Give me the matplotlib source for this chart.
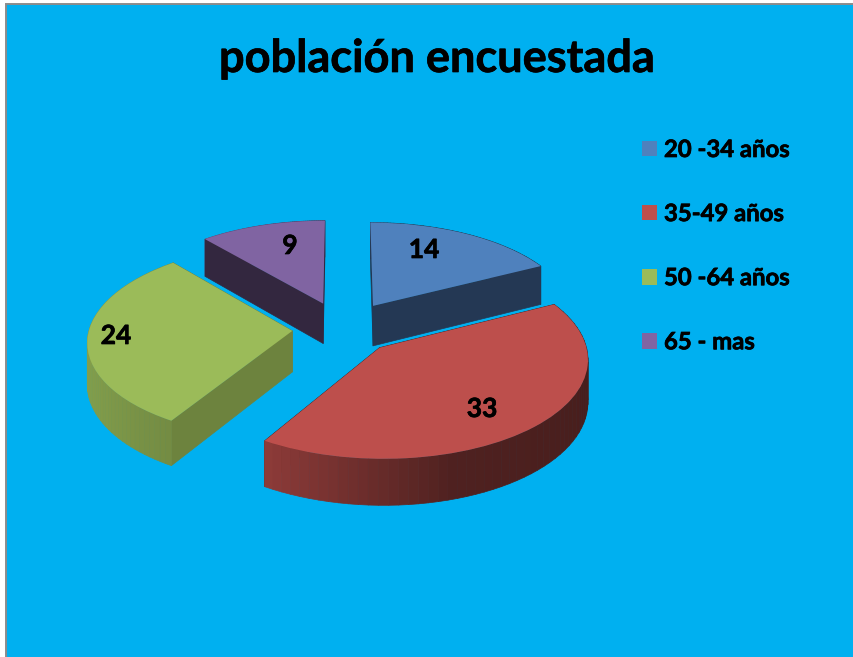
import numpy as np
import matplotlib
matplotlib.use("Agg")
from matplotlib import pyplot as plt
from matplotlib import patheffects
from matplotlib.collections import PolyCollection
from matplotlib.patches import Rectangle
from matplotlib.path import Path
from matplotlib.transforms import Transform

categories = ["20 -34 años", "35-49 años", "50 -64 años", "65 - mas"]
values = [14, 33, 24, 9]
title = "población encuestada"
colors = ["#4F81BD", "#BD4F4C", "#9BBB59", "#8064A2"]
cut_colors = ["#243854", "#4A1F1C", "#6D833E", "#33273F"]

# layout in reference pixels
CX, CY = 343, 329
RX, RY = 203, 96
K = 0.10
DEPTH = 41
EXPLODE = [0.29, 0.26, 0.25, 0.29]
label_pos = [(424, 250), (482, 409), (116, 336), (290, 246)]

plt.rcParams['font.family'] = ['Lato', 'DejaVu Sans']
plt.rcParams['font.weight'] = 'bold'


def project(x, y, z=0.0):
    s = 1.0 / (1.0 + K * np.asarray(y))
    return CX + RX * np.asarray(x) * s, CY - RY * np.asarray(y) * s + z * s


class Tilt(Transform):
    input_dims = 2
    output_dims = 2

    def transform_non_affine(self, values):
        px, py = project(values[:, 0], values[:, 1])
        return np.column_stack([px, py])

    def transform_path_non_affine(self, path):
        return Path(self.transform_non_affine(path.vertices), path.codes)


def wall_shade(x):
    return np.interp(x, [-1.0, -0.5, 0.3, 1.0], [0.85, 0.74, 0.42, 0.38])


def quad(x0, y0, x1, y1):
    a = project(x0, y0)
    b = project(x1, y1)
    c = project(x1, y1, DEPTH)
    d = project(x0, y0, DEPTH)
    return [a, b, c, d]


def draw_side(ax, wedge, base, cut, order):
    cx, cy = wedge.center
    t = np.radians(np.linspace(wedge.theta1, wedge.theta2, 60))
    faces = []
    # two cut faces
    for tt in (t[0], t[-1]):
        faces.append((cy + 0.5 * np.sin(tt), quad(cx, cy, cx + np.cos(tt), cy + np.sin(tt)), cut))
    # outer rim, one facet per step
    rgb = np.array(matplotlib.colors.to_rgb(base))
    for a, b in zip(t[:-1], t[1:]):
        x0, y0 = cx + np.cos(a), cy + np.sin(a)
        x1, y1 = cx + np.cos(b), cy + np.sin(b)
        mid = 0.5 * (a + b)
        faces.append((cy + np.sin(mid), quad(x0, y0, x1, y1), tuple(rgb * wall_shade(np.cos(mid)))))
    faces.sort(key=lambda f: -f[0])
    polys = PolyCollection([f[1] for f in faces], facecolors=[f[2] for f in faces],
                           edgecolors=[f[2] for f in faces], linewidths=0.5, zorder=order)
    ax.add_collection(polys)


fig = plt.figure(figsize=(8.54, 6.57), dpi=100)
ax = fig.add_axes([0, 0, 1, 1])

wedges, _ = ax.pie(values, colors=colors, startangle=90, counterclock=False,
                   explode=EXPLODE, radius=1.0)
ax.set_aspect('auto')
ax.set_xlim(0, 854)
ax.set_ylim(657, 0)

ax.add_patch(Rectangle((6.5, 3.5), 860, 670, facecolor="#00B0F0", edgecolor="#8C8C8C",
                       linewidth=1.4, zorder=0))

tilt = Tilt()
draw_order = sorted(range(len(wedges)), key=lambda i: -wedges[i].center[1])
for n, i in enumerate(draw_order):
    draw_side(ax, wedges[i], colors[i], cut_colors[i], 2 + 2 * n)
    wedges[i].set_transform(tilt + ax.transData)
    wedges[i].set_zorder(3 + 2 * n)

thick = [patheffects.withStroke(linewidth=0.5, foreground='black')]

for v, (lx, ly) in zip(values, label_pos):
    ax.text(lx, ly, str(v), ha='center', va='center', fontsize=19, color='black', zorder=20,
            path_effects=thick)

ax.text(437, 59, title, ha='center', va='center', fontsize=32.5, color='black', zorder=20,
        path_effects=thick)

leg = ax.legend(wedges, categories, loc='upper left', bbox_to_anchor=(642 / 854, 1 - 138 / 657),
                frameon=False, fontsize=17.2, handlelength=0.62, handleheight=0.62,
                handletextpad=0.3, labelspacing=1.72, borderpad=0, borderaxespad=0,
                labelcolor='black')
for txt in leg.get_texts():
    txt.set_path_effects(thick)

fig.savefig("out.png", dpi=100)
